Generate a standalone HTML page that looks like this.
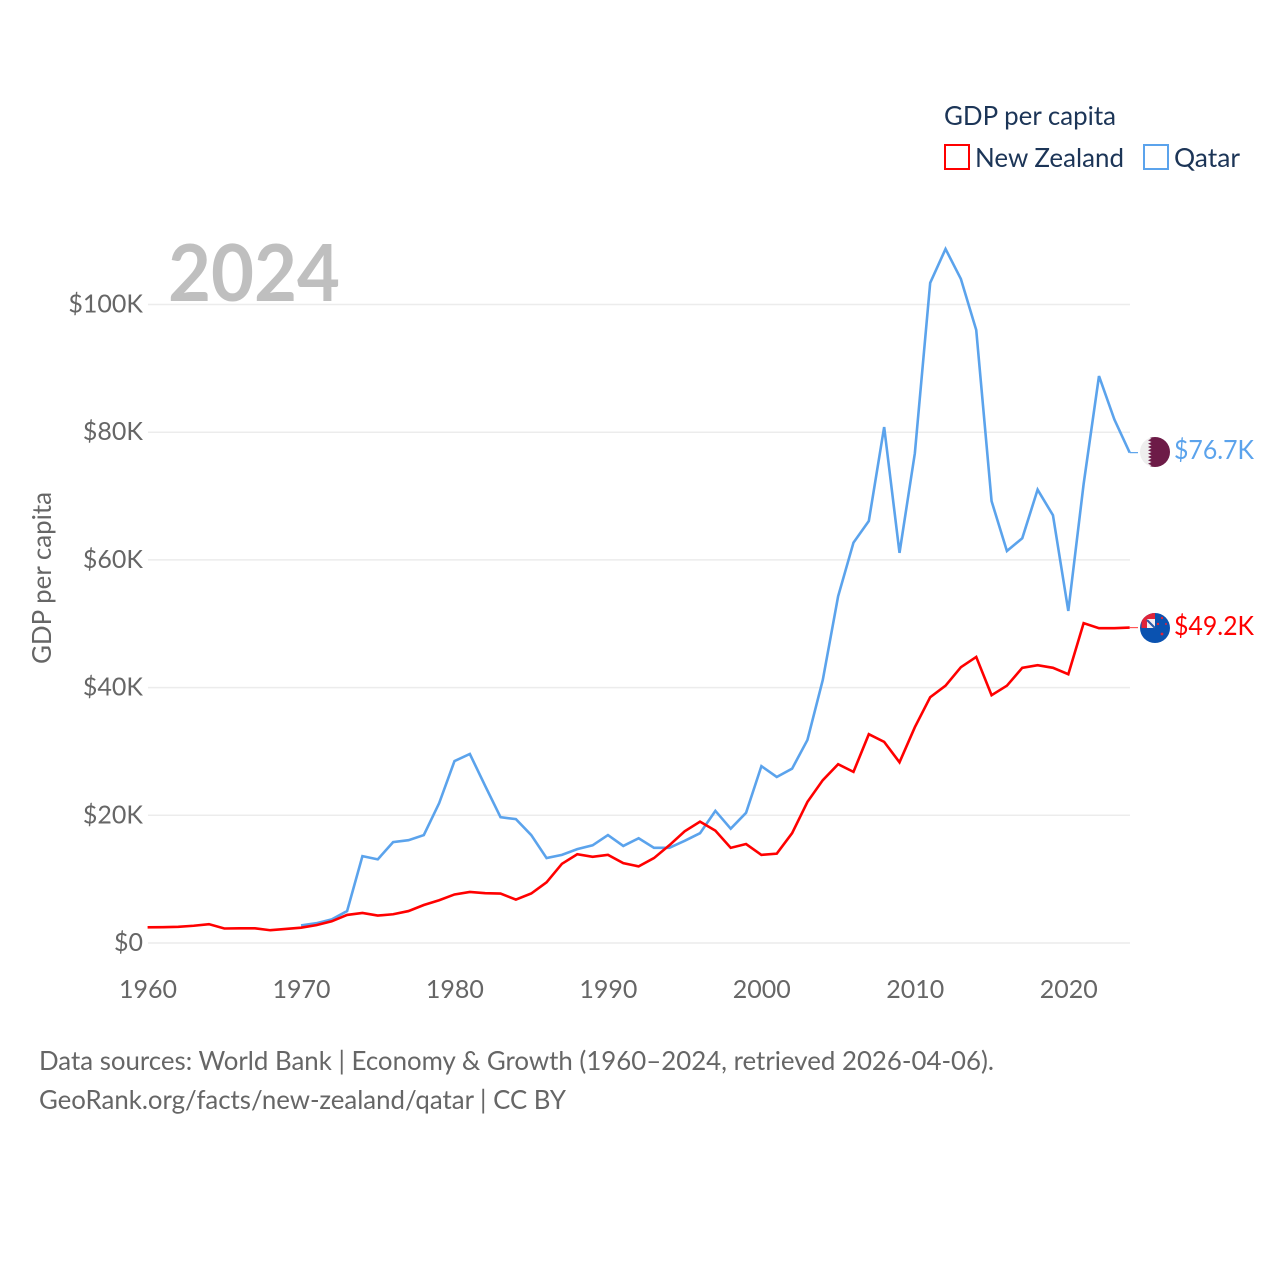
<!DOCTYPE html>
<html lang="en">
<head>
<meta charset="utf-8">
<title>GDP per capita: New Zealand and Qatar</title>
<style>
  html, body { margin: 0; padding: 0; background: #fff; }
  svg { display: block; font-family: "Lato", "Liberation Sans", sans-serif; }
</style>
</head>
<body>
<svg id="chart" width="1280" height="1280" viewBox="0 0 1280 1280" xmlns="http://www.w3.org/2000/svg">
  <defs>
    <clipPath id="flag-clip-qa"><circle cx="1155" cy="452" r="15"></circle></clipPath>
    <clipPath id="flag-clip-nz"><circle cx="1155" cy="628" r="15"></circle></clipPath>
  </defs>
  <g id="grid"></g>
  <text x="168" y="301" font-size="79" font-weight="700" fill="#bfbfbf" textLength="172" lengthAdjust="spacingAndGlyphs">2024</text>
  <g id="yticks"></g>
  <g id="xticks"></g>
  <text transform="translate(51,664) rotate(-90)" font-size="26" fill="#666666" textLength="172" lengthAdjust="spacingAndGlyphs">GDP per capita</text>
  <g id="lines"></g>

  <g clip-path="url(#flag-clip-qa)">
    <rect x="1140" y="437" width="30" height="30" fill="#eeeeee"></rect>
    <path fill="#6d1b47" d="M1170 437H1148L1151.5 438.7L1148 440.3L1151.5 442L1148 443.7L1151.5 445.3L1148 447L1151.5 448.7L1148 450.3L1151.5 452L1148 453.7L1151.5 455.3L1148 457L1151.5 458.7L1148 460.3L1151.5 462L1148 463.7L1151.5 465.3L1148 467H1170Z"></path>
  </g>
  <g clip-path="url(#flag-clip-nz)">
    <rect x="1140" y="613" width="30" height="30" fill="#0a52b0"></rect>
    <rect x="1141.5" y="613" width="13.5" height="15" fill="#e0243a"></rect>
    <rect x="1147" y="619" width="8" height="9" fill="#f4eef2"></rect>
    <path d="M1147 620L1155 628" stroke="#2c5aa8" stroke-width="2"></path>
    <circle cx="1162" cy="618" r="1.2" fill="#e0243a"></circle>
    <circle cx="1158" cy="624" r="1.2" fill="#e0243a"></circle>
    <circle cx="1166" cy="624" r="1" fill="#e0243a"></circle>
    <circle cx="1162" cy="634" r="1.4" fill="#e0243a"></circle>
  </g>

  <text x="1174" y="459" font-size="26" fill="#5ba3ec" textLength="80" lengthAdjust="spacingAndGlyphs">$76.7K</text>
  <text x="1174" y="635" font-size="26" fill="#ff0000" textLength="80" lengthAdjust="spacingAndGlyphs">$49.2K</text>

  <g>
    <text x="944" y="125" font-size="26" fill="#1c3557" textLength="172" lengthAdjust="spacingAndGlyphs">GDP per capita</text>
    <g>
      <rect x="945" y="145" width="24" height="24" fill="#fff" stroke="#ff0000" stroke-width="2"></rect>
      <text x="975" y="167" font-size="26" fill="#1c3557" textLength="149" lengthAdjust="spacingAndGlyphs">New Zealand</text>
    </g>
    <g>
      <rect x="1144" y="145" width="24" height="24" fill="#fff" stroke="#5ba3ec" stroke-width="2"></rect>
      <text x="1174" y="167" font-size="26" fill="#1c3557" textLength="66" lengthAdjust="spacingAndGlyphs">Qatar</text>
    </g>
  </g>

  <g>
    <text x="39" y="1070" font-size="26" fill="#666666" textLength="955" lengthAdjust="spacingAndGlyphs">Data sources: World Bank | Economy &amp; Growth (1960–2024, retrieved 2026-04-06).</text>
    <text x="39" y="1109" font-size="26" fill="#666666" textLength="527" lengthAdjust="spacingAndGlyphs">GeoRank.org/facts/new-zealand/qatar | CC BY</text>
  </g>

  <script>
    const years = [1960,1961,1962,1963,1964,1965,1966,1967,1968,1969,1970,1971,1972,1973,1974,1975,1976,1977,1978,1979,1980,1981,1982,1983,1984,1985,1986,1987,1988,1989,1990,1991,1992,1993,1994,1995,1996,1997,1998,1999,2000,2001,2002,2003,2004,2005,2006,2007,2008,2009,2010,2011,2012,2013,2014,2015,2016,2017,2018,2019,2020,2021,2022,2023,2024];
    const newZealand = [2.45,2.47,2.54,2.7,2.95,2.27,2.3,2.3,2.0,2.2,2.4,2.8,3.4,4.4,4.7,4.3,4.5,5.0,5.95,6.7,7.6,8.0,7.8,7.75,6.8,7.75,9.5,12.4,13.9,13.5,13.8,12.5,12.0,13.3,15.3,17.5,19.0,17.6,14.9,15.5,13.8,14.0,17.2,22.1,25.5,28.0,26.8,32.7,31.5,28.3,33.8,38.5,40.3,43.2,44.8,38.8,40.3,43.1,43.5,43.1,42.1,50.1,49.3,49.3,49.4];
    const qatar = [null,null,null,null,null,null,null,null,null,null,2.75,3.1,3.7,5.0,13.6,13.1,15.8,16.1,16.9,21.9,28.5,29.6,24.6,19.7,19.4,16.9,13.3,13.8,14.7,15.3,16.9,15.2,16.4,14.9,14.9,16.0,17.2,20.7,17.9,20.4,27.7,26.0,27.3,31.8,41.2,54.3,62.7,66.1,80.8,61.1,76.7,103.4,108.7,104.0,96.0,69.2,61.4,63.4,71.0,67.0,52.0,71.9,88.8,82.0,76.8];
    const yTickValues = [0,20,40,60,80,100];
    const yTickLabels = ['$0','$20K','$40K','$60K','$80K','$100K'];
    const xTickValues = [1960,1970,1980,1990,2000,2010,2020];

    const NS = 'http://www.w3.org/2000/svg';
    const xScale = function (year) { return 147.6 + (year - 1960) * 15.345; };
    const yScale = function (value) { return 943 - value * 6.385; };

    const grid = document.getElementById('grid');
    const yticks = document.getElementById('yticks');
    const xticks = document.getElementById('xticks');
    const lines = document.getElementById('lines');

    yTickValues.forEach(function (value, i) {
      const rule = document.createElementNS(NS, 'line');
      
      
      rule.setAttribute('x1', 148);
      rule.setAttribute('x2', 1130);
      rule.setAttribute('y1', yScale(value));
      rule.setAttribute('y2', yScale(value));
      rule.setAttribute('stroke', '#ececec');
      rule.setAttribute('stroke-width', '1.5');
      grid.appendChild(rule);

      const label = document.createElementNS(NS, 'text');
      
      
      label.setAttribute('x', 143);
      label.setAttribute('y', yScale(value) + 8);
      label.setAttribute('text-anchor', 'end');
      label.setAttribute('font-size', '25');
      label.setAttribute('fill', '#666666');
      label.textContent = yTickLabels[i];
      yticks.appendChild(label);
    });

    xTickValues.forEach(function (year) {
      const label = document.createElementNS(NS, 'text');
      
      
      label.setAttribute('x', xScale(year) + 0.4);
      label.setAttribute('y', 998);
      label.setAttribute('text-anchor', 'middle');
      label.setAttribute('font-size', '25');
      label.setAttribute('fill', '#666666');
      label.textContent = String(year);
      xticks.appendChild(label);
    });

    function pointsFor(values) {
      const pts = [];
      values.forEach(function (value, i) {
        if (value !== null) {
          pts.push(xScale(years[i]).toFixed(2) + ',' + yScale(value).toFixed(2));
        }
      });
      return pts.join(' ');
    }

    function addLeader(values, color, name) {
      const last = values[values.length - 1];
      const leader = document.createElementNS(NS, 'line');
      
      
      leader.setAttribute('x1', xScale(years[years.length - 1]));
      leader.setAttribute('x2', 1138);
      leader.setAttribute('y1', yScale(last));
      leader.setAttribute('y2', yScale(last));
      leader.setAttribute('stroke', color);
      leader.setAttribute('stroke-width', '1.2');
      lines.appendChild(leader);
    }

    const qatarLine = document.createElementNS(NS, 'polyline');
    
    
    qatarLine.setAttribute('points', pointsFor(qatar));
    qatarLine.setAttribute('fill', 'none');
    qatarLine.setAttribute('stroke', '#5ba3ec');
    qatarLine.setAttribute('stroke-width', '2.6');
    lines.appendChild(qatarLine);
    addLeader(qatar, '#5ba3ec', 'qatar-leader');

    const nzLine = document.createElementNS(NS, 'polyline');
    
    
    nzLine.setAttribute('points', pointsFor(newZealand));
    nzLine.setAttribute('fill', 'none');
    nzLine.setAttribute('stroke', '#ff0000');
    nzLine.setAttribute('stroke-width', '2.6');
    lines.appendChild(nzLine);
    addLeader(newZealand, '#ff5555', 'new-zealand-leader');
  </script>
</svg>
</body>
</html>
